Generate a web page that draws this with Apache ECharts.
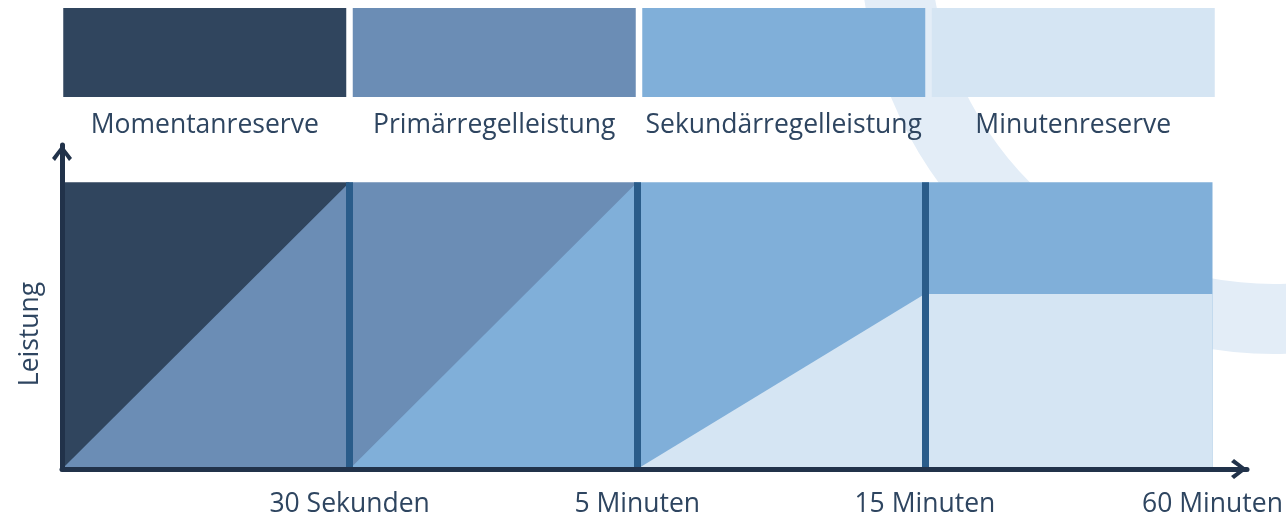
<!DOCTYPE html>
<html>
<head>
<meta charset="utf-8">
<script src="https://cdn.jsdelivr.net/npm/echarts@6/dist/echarts.min.js"></script>
<style>
  html, body { margin: 0; padding: 0; background: #ffffff; }
  #chart { width: 1286px; height: 518px; }
</style>
</head>
<body>
<div id="chart"></div>
<script>
// Reservearten (Legendenkästen oben)
const reserveNames = ['Momentanreserve', 'Primärregelleistung', 'Sekundärregelleistung', 'Minutenreserve'];
const reserveColors = ['#30455e', '#6b8db5', '#80afd9', '#d5e5f3'];
const boxLevel = [1, 1, 1, 1];

// Zeitabschnitte auf der x-Achse
const tickLabels = ['', '30 Sekunden', '5 Minuten', '15 Minuten', '60 Minuten'];
const dividers = [1, 2, 3];

// Flächen (x = Abschnitt, y = Leistung 0..1)
const momentanData = [[0, 1], [1, 1]];
const primaerData = [[0, 0], [1, 1], [2, 1]];
const sekundaerData = [[1, 0], [2, 1], [4, 1]];
const minutenData = [[2, 0], [3, 0.61], [4, 0.61]];

const areaData = [momentanData, primaerData, sekundaerData, minutenData];

const textColor = '#2e4560';
const axisColor = '#21324a';
const dividerColor = '#2a5c8a';
const chevron = 'path://M10,0 L20,13 L17,16 L10,6 L3,16 L0,13 Z';

const chart = echarts.init(document.getElementById('chart'));

const areaSeries = areaData.map((d, i) => ({
    name: reserveNames[i],
    type: 'line',
    xAxisIndex: 0,
    yAxisIndex: 0,
    data: d,
    symbol: 'none',
    silent: true,
    lineStyle: { width: 0 },
    areaStyle: { color: reserveColors[i], opacity: 1 },
}));

// Trennlinien zwischen den Abschnitten
areaSeries[3].markLine = {
    silent: true,
    symbol: ['none', 'none'],
    label: { show: false },
    lineStyle: { color: dividerColor, width: 7, type: 'solid' },
    data: dividers.map((x) => [{ coord: [x, 0] }, { coord: [x, 1] }]),
};

const option = {
    animation: false,
    textStyle: { fontFamily: 'Open Sans' },
    graphic: [
        {
            type: 'ring',
            z: -10,
            silent: true,
            shape: { cx: 1274, cy: -60, r: 414, r0: 344 },
            style: { fill: '#e3edf7' },
        },
    ],
    grid: [
        { left: 62, right: 39, top: 145, bottom: 49 },
        { left: 60, right: 68, top: 8, height: 89 },
    ],
    xAxis: [
        {
            type: 'value',
            gridIndex: 0,
            min: 0,
            max: 4.12,
            interval: 1,
            z: 10,
            axisLine: {
                show: true,
                lineStyle: { color: axisColor, width: 5 },
                symbol: ['none', chevron],
                symbolSize: [20, 16],
                symbolOffset: [0, -8],
            },
            axisTick: { show: false },
            splitLine: { show: false },
            axisLabel: {
                color: textColor,
                fontSize: 26.5,
                margin: 22,
                formatter: (v) => (Number.isInteger(v) ? tickLabels[v] : ''),
            },
        },
        {
            type: 'category',
            gridIndex: 1,
            data: reserveNames,
            axisLine: { show: false },
            axisTick: { show: false },
            axisLabel: { color: textColor, fontSize: 26.5, margin: 15, interval: 0 },
        },
    ],
    yAxis: [
        {
            type: 'value',
            gridIndex: 0,
            min: 0,
            max: 1.13,
            z: 10,
            name: 'Leistung',
            nameLocation: 'middle',
            nameGap: 18,
            nameTextStyle: { color: textColor, fontSize: 26.5, padding: [0, 54, 0, 0] },
            axisLine: {
                show: true,
                lineStyle: { color: axisColor, width: 5 },
                symbol: ['none', chevron],
                symbolSize: [20, 16],
                symbolOffset: [0, -8],
            },
            axisTick: { show: false },
            axisLabel: { show: false },
            splitLine: { show: false },
        },
        {
            type: 'value',
            gridIndex: 1,
            min: 0,
            max: 1,
            show: false,
        },
    ],
    series: [
        ...areaSeries,
        {
            type: 'bar',
            xAxisIndex: 1,
            yAxisIndex: 1,
            silent: true,
            barWidth: 283,
            data: boxLevel.map((v, i) => ({ value: v, itemStyle: { color: reserveColors[i] } })),
        },
    ],
};

chart.setOption(option);
</script>
</body>
</html>
